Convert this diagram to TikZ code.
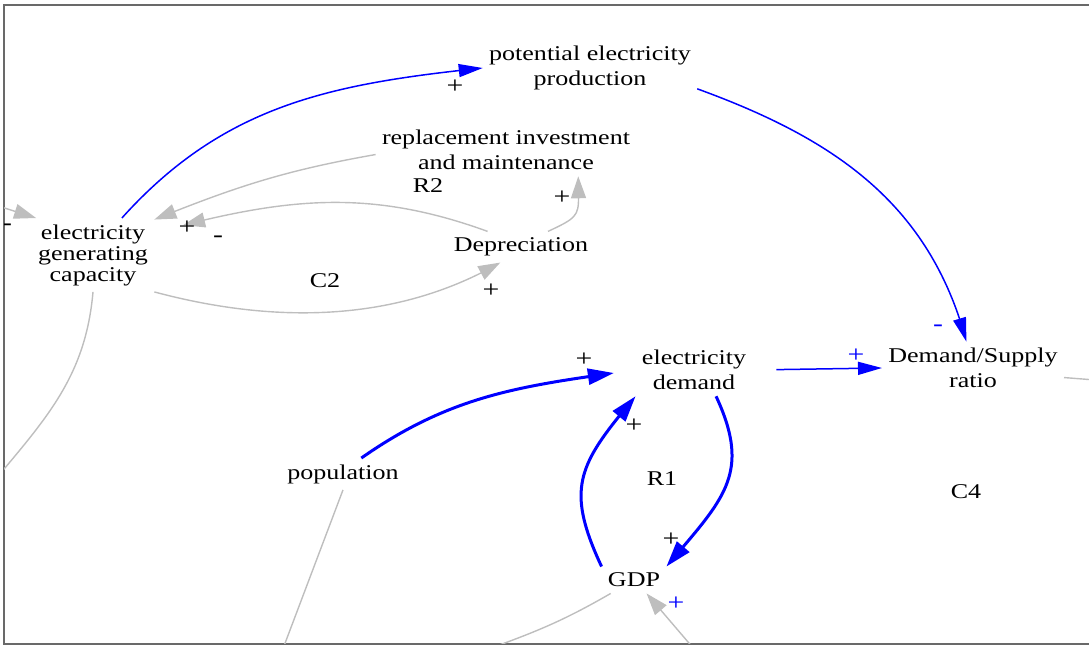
\documentclass[tikz,border=0pt]{standalone}
\usepackage{fontspec}
\setmainfont[FakeStretch=1.24]{Liberation Serif}
\usetikzlibrary{arrows.meta,bending}
\definecolor{linkgray}{RGB}{190,190,190}
\definecolor{framegray}{RGB}{105,105,105}
\tikzset{font=\fontsize{10.5}{12.5}\selectfont}
\tikzset{var/.style={align=center,inner sep=3pt}}
\tikzset{sign/.style={inner sep=0pt,font=\fontsize{12}{12}\selectfont}}
\tikzset{thin link/.style={blue,line width=0.75pt,-{Triangle[length=12pt,width=6.5pt]}}}
\tikzset{thick link/.style={blue,line width=1.5pt,-{Triangle[length=13pt,width=8pt]}}}
\tikzset{gray link/.style={linkgray,line width=0.7pt,-{Triangle[length=11pt,width=7.5pt]}}}

\begin{document}
\begin{tikzpicture}[x=0.5pt,y=0.5pt]
\useasboundingbox (0,0) rectangle (1089,646);
\draw[framegray,line width=1pt] (1089,641) -- (4,641) -- (4,2) -- (1089,2);
\begin{scope}
\clip (4,2) rectangle (1089,641);
\node[var] (pot) at (590,578) {potential electricity\\production};
\node[var] (repl) at (506,496) {replacement investment\\and maintenance};
\node[var,font=\fontsize{10.5}{10.5}\selectfont] (cap) at (93,391) {electricity\\generating\\capacity};
\node[var] (dep) at (521,399) {Depreciation};
\node[var] (dem) at (694,276) {electricity\\demand};
\node[var] (dsr) at (973,278) {Demand/Supply\\ratio};
\node[var] (pop) at (343,172) {population};
\node[var] (gdp) at (634,66) {GDP};
% loop names
\node (R2) at (428,460) {R2};
\node (C2) at (325,365) {C2};
\node (R1) at (662,167) {R1};
\node (C4) at (966,154) {C4};
% links that leave the frame
\coordinate (in1) at (-5,441);
\coordinate (out1) at (-6,165);
\coordinate (out2) at (284,0);
\coordinate (out3) at (694,-3);
\coordinate (out4) at (494,-1);
\coordinate (out5) at (1095,266);
\path[thin link]
(cap.52) edge[out=48,in=186] (pot.west)
(pot.349) edge[out=-20,in=105] (dsr.104)
(dem.east) edge[shorten <=12pt] (dsr.west);
\path[thick link]
(pop.41) edge[out=35,in=188,shorten >=11pt] (dem.west)
(gdp.north west) edge[out=115,in=230,looseness=1.3] (dem.south west)
(dem.310) edge[out=-65,in=50,looseness=1.25] (gdp.north east);
\path[gray link]
(repl.182) edge[out=190,in=22] (cap.30)
(dep.155) edge[out=160,in=15,shorten >=15pt] (cap.20)
(cap.south east) edge[out=-15,in=-150,looseness=0.9] (dep.217)
(dep.30) edge[out=25,in=-90,looseness=1.6] (repl.340)
(in1) edge (cap.147)
(out3) edge (gdp.313);
\path[linkgray,line width=0.7pt]
(cap.south) edge[out=-95,in=50] (out1)
(pop.south) edge (out2)
(gdp.210) edge[out=210,in=20] (out4)
(dsr.354) edge (out5);
% polarities
\node[sign] (s1) at (455,559) {+};
\node[sign,blue] (s2) at (938,318) {-};
\node[sign] (s3) at (187,418) {+};
\node[sign] (s4) at (218,407) {-};
\node[sign] (s5) at (491,355) {+};
\node[sign] (s6) at (562,448) {+};
\node[sign] (s7) at (7,419) {-};
\node[sign] (s9) at (584,286) {+};
\node[sign,blue] (s10) at (856,290) {+};
\node[sign] (s11) at (634,220) {+};
\node[sign] (s12) at (671,106) {+};
\node[sign,blue] (s15) at (676,42) {+};
\end{scope}
\end{tikzpicture}
\end{document}
